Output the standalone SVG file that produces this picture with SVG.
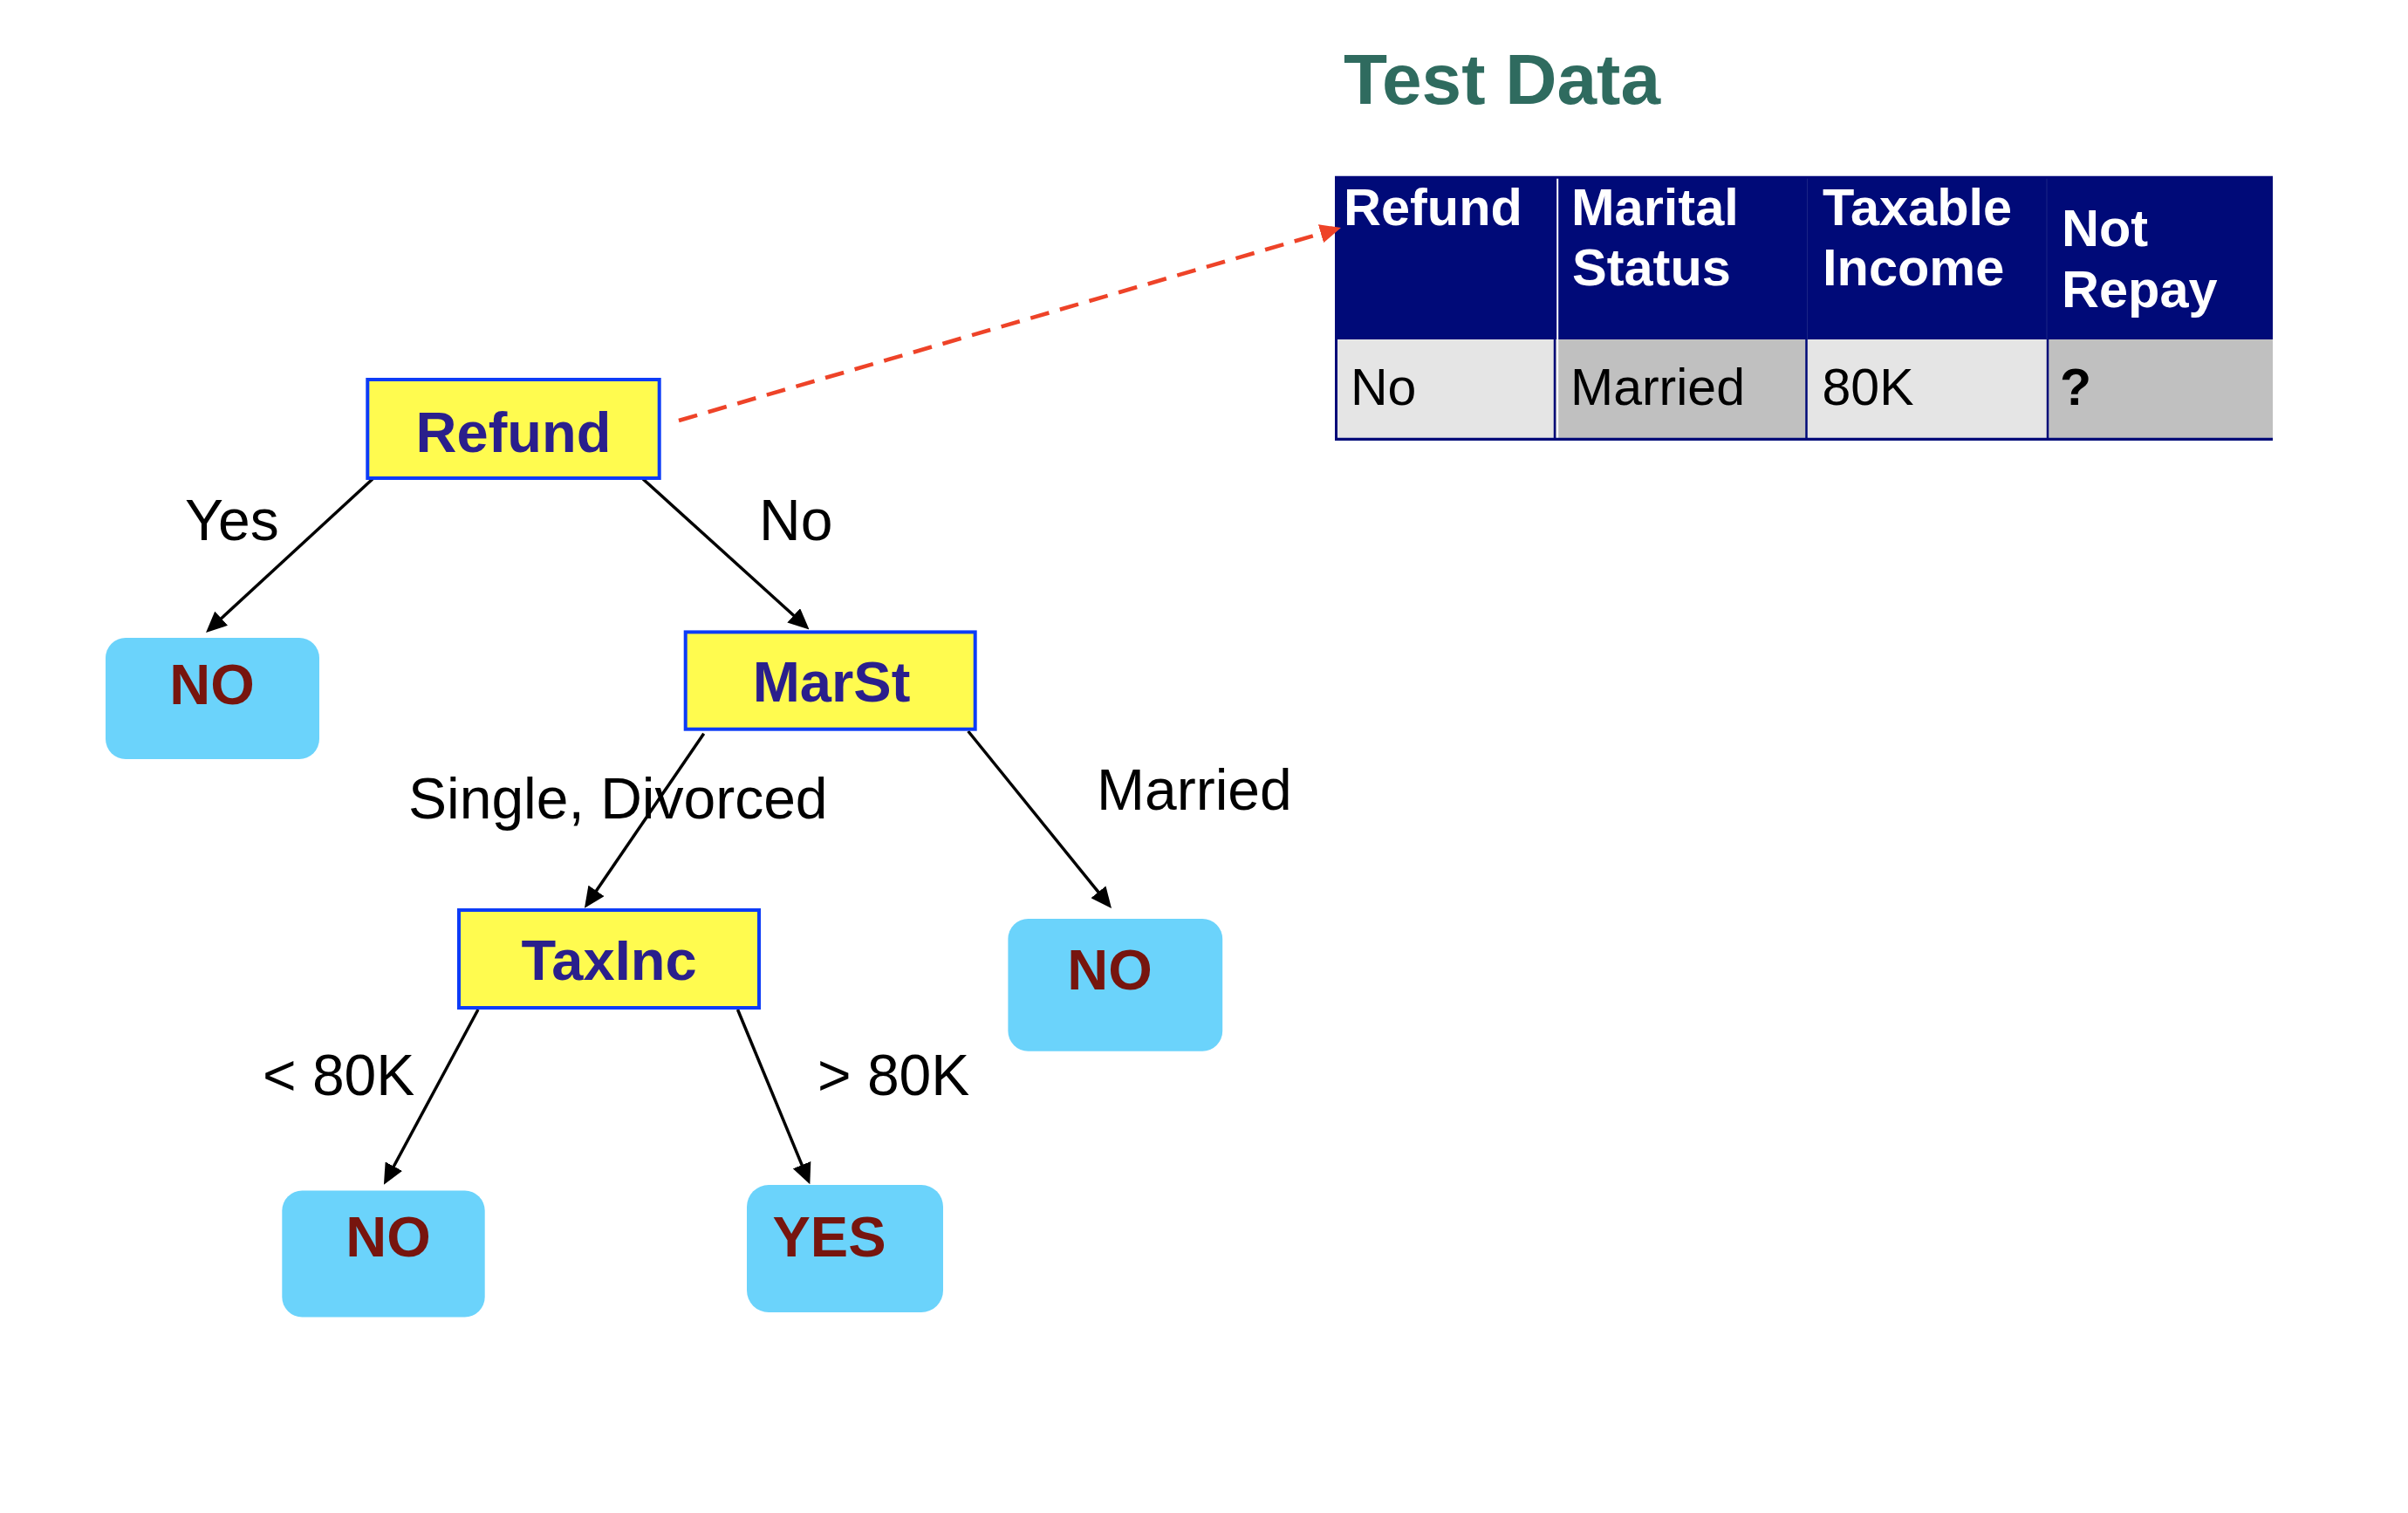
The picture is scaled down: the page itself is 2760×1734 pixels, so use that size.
<svg xmlns="http://www.w3.org/2000/svg" width="2760" height="1734" viewBox="0 0 2760 1734">
<style>
.dec{fill:#fffb4f;stroke:#0d3cf7;stroke-width:4}
.dect{font-family:"Liberation Sans",Arial,sans-serif;font-weight:bold;font-size:65px;fill:#2a1f8c;text-anchor:middle}
.leaf{fill:#6bd3fb}
.leaft{font-family:"Liberation Sans",Arial,sans-serif;font-weight:bold;font-size:65px;fill:#77150e;text-anchor:middle}
.edge{stroke:#000;stroke-width:3.5;fill:none}
.elab{font-family:"Liberation Sans",Arial,sans-serif;font-size:66px;fill:#000}
.th{font-family:"Liberation Sans",Arial,sans-serif;font-weight:bold;font-size:59.5px;fill:#fff}
.td{font-family:"Liberation Sans",Arial,sans-serif;font-size:59px;fill:#000}
</style>
<defs>
<marker id="ah" markerUnits="userSpaceOnUse" viewBox="0 0 24 22" refX="14" refY="11" markerWidth="24" markerHeight="22" orient="auto">
<path d="M0,0 L24,11 L0,22 z" fill="#000"/>
</marker>
<marker id="ahr" markerUnits="userSpaceOnUse" viewBox="0 0 24 22" refX="14" refY="11" markerWidth="24" markerHeight="22" orient="auto">
<path d="M0,0 L24,11 L0,22 z" fill="#ee4328"/>
</marker>
</defs>
<rect width="2760" height="1734" fill="#fff"/>

<g id="title">
<text x="1540" y="119" font-family="Liberation Sans, Arial, sans-serif" font-weight="bold" font-size="82" fill="#2f6b5f">Test Data</text>
</g>

<g id="test-data-table">
<rect x="1531" y="202" width="1074" height="187" fill="#000a78"/>
<rect x="1531" y="389" width="251" height="113" fill="#e5e5e5"/>
<rect x="1783" y="389" width="287" height="113" fill="#c0c0c0"/>
<rect x="2071" y="389" width="276" height="113" fill="#e5e5e5"/>
<rect x="2347" y="389" width="258" height="113" fill="#c0c0c0"/>
<line x1="1782" y1="389" x2="1782" y2="503" stroke="#000a78" stroke-width="2.5"/>
<line x1="1785.2" y1="204" x2="1785.2" y2="502" stroke="#fff" stroke-width="2"/>
<line x1="2070.5" y1="389" x2="2070.5" y2="503" stroke="#000a78" stroke-width="2.5"/>
<line x1="2071.5" y1="204" x2="2071.5" y2="389" stroke="#1a2486" stroke-width="1"/>
<line x1="2347" y1="389" x2="2347" y2="503" stroke="#000a78" stroke-width="2.5"/>
<line x1="2346" y1="204" x2="2346" y2="389" stroke="#1a2486" stroke-width="1"/>
<line x1="1531.5" y1="202" x2="1531.5" y2="505" stroke="#000a78" stroke-width="3"/>
<line x1="1530" y1="203.2" x2="2605" y2="203.2" stroke="#00087a" stroke-width="3"/>
<line x1="1530" y1="503.4" x2="2605" y2="503.4" stroke="#000a78" stroke-width="3.3"/>
<text class="th" x="1540" y="258">Refund</text>
<text class="th" x="1801" y="258">Marital</text>
<text class="th" x="1802" y="327">Status</text>
<text class="th" x="2089" y="258">Taxable</text>
<text class="th" x="2089" y="327">Income</text>
<text class="th" x="2363" y="282">Not</text>
<text class="th" x="2363" y="352">Repay</text>
<text class="td" x="1548" y="464">No</text>
<text class="td" x="1800" y="464">Married</text>
<text class="td" x="2088.5" y="464">80K</text>
<text class="td" x="2361" y="464" font-weight="bold">?</text>
</g>

<g id="connectors">
<line class="edge" x1="427" y1="549" x2="243.4" y2="718.2" marker-end="url(#ah)"/>
<line class="edge" x1="737" y1="549" x2="920.1" y2="714.7" marker-end="url(#ah)"/>
<line class="edge" x1="806.7" y1="840.7" x2="675.6" y2="1032.4" marker-end="url(#ah)"/>
<line class="edge" x1="1109.7" y1="838" x2="1267.7" y2="1033.2" marker-end="url(#ah)"/>
<line class="edge" x1="548" y1="1157" x2="444.7" y2="1349" marker-end="url(#ah)"/>
<line class="edge" x1="845.5" y1="1157" x2="924.5" y2="1348.1" marker-end="url(#ah)"/>
<line x1="778" y1="482" x2="1527.4" y2="263.8" stroke="#ee4328" stroke-width="4.6" stroke-dasharray="22 13" fill="none" marker-end="url(#ahr)"/>
<text class="elab" x="212" y="619">Yes</text>
<text class="elab" x="870" y="619">No</text>
<text class="elab" x="468" y="938">Single, Divorced</text>
<text class="elab" x="1257" y="928">Married</text>
<text class="elab" x="301" y="1255">&lt; 80K</text>
<text class="elab" x="937" y="1255">&gt; 80K</text>
</g>

<g id="node-refund">
<rect class="dec" x="421.3" y="435" width="334.4" height="113"/>
<text class="dect" x="588.5" y="518">Refund</text>
</g>
<g id="node-marst">
<rect class="dec" x="785.7" y="724.4" width="332" height="111.3"/>
<text class="dect" x="953" y="803.6">MarSt</text>
</g>
<g id="node-taxinc">
<rect class="dec" x="526" y="1043" width="344" height="112"/>
<text class="dect" x="698" y="1123">TaxInc</text>
</g>
<g id="leaf-refund-yes">
<rect class="leaf" x="121" y="731" width="245" height="139" rx="23"/>
<text class="leaft" x="243" y="806.7">NO</text>
</g>
<g id="leaf-married">
<rect class="leaf" x="1155.4" y="1053" width="245.8" height="151.7" rx="23"/>
<text class="leaft" x="1272" y="1134">NO</text>
</g>
<g id="leaf-low-income">
<rect class="leaf" x="323.3" y="1364.5" width="232.4" height="145" rx="23"/>
<text class="leaft" x="445" y="1440">NO</text>
</g>
<g id="leaf-high-income">
<rect class="leaf" x="856" y="1358" width="225" height="146" rx="25"/>
<text class="leaft" x="950.5" y="1440">YES</text>
</g>
</svg>
